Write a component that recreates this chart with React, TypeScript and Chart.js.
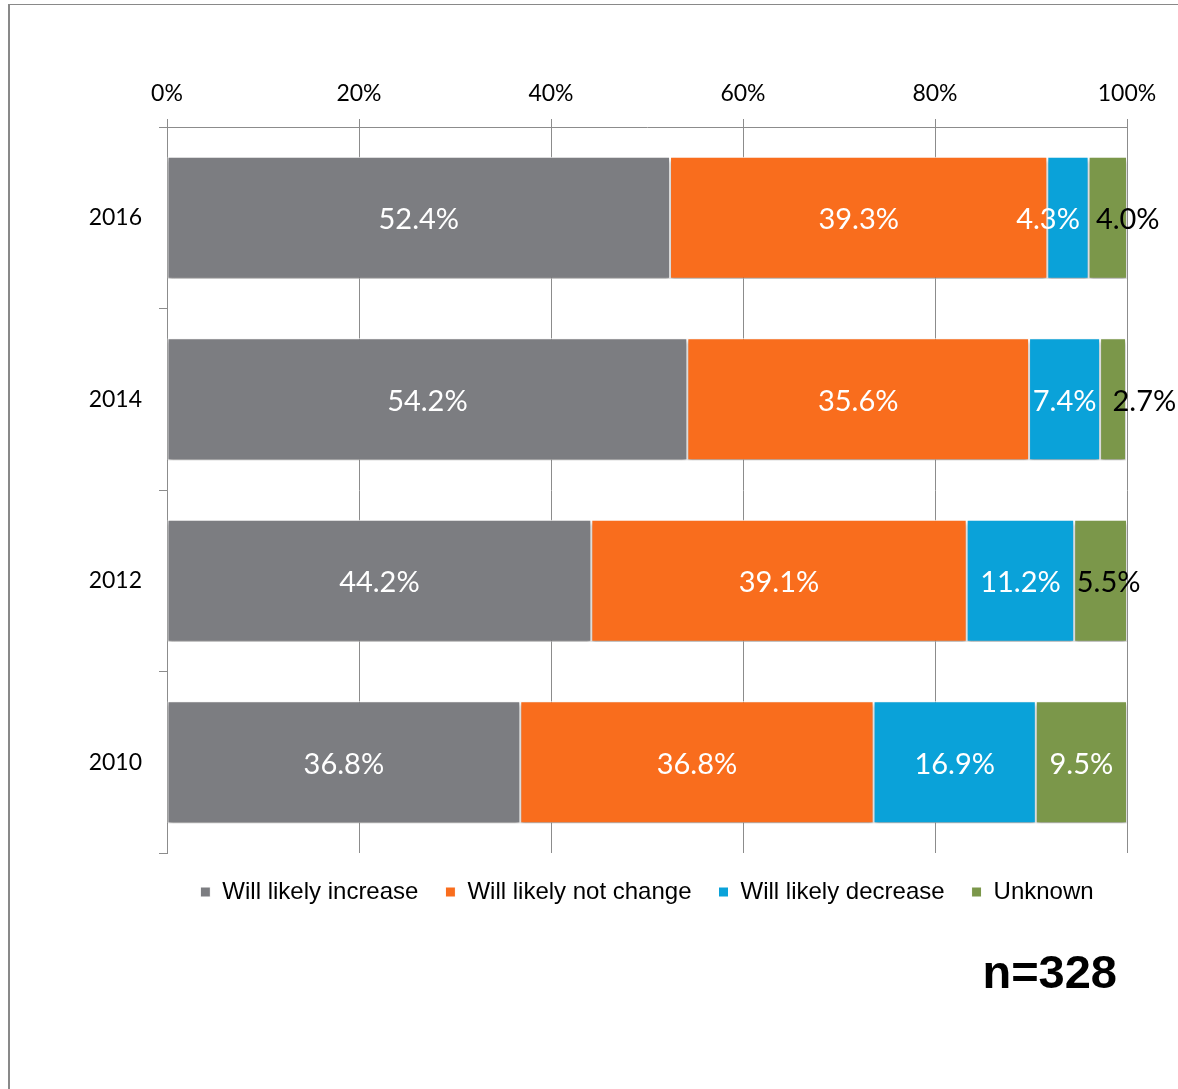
import React, { useEffect, useRef } from "react";
import { Chart, registerables } from "chart.js";
Chart.register(...registerables);

const categories = ["2016", "2014", "2012", "2010"];
const seriesNames = ["Will likely increase", "Will likely not change", "Will likely decrease", "Unknown"];
const increase = [52.4, 54.2, 44.2, 36.8];
const notChange = [39.3, 35.6, 39.1, 36.8];
const decrease = [4.3, 7.4, 11.2, 16.9];
const unknown = [4.0, 2.7, 5.5, 9.5];
const xTicks = [0, 20, 40, 60, 80, 100];
const sampleNote = "n=328";
const colors = ["#7c7d81", "#f96d1d", "#0aa2d9", "#7b974a"];

const LABEL_FONT = "29px Lato";
const NOTE_FONT = "bold 47px 'Liberation Sans', Arial, sans-serif";
const GRID = "#8c8c8c";

const segLabels = {
  id: "segLabels",
  beforeDatasetsDraw(chart: any) {
    const ctx = chart.ctx;
    ctx.save();
    ctx.shadowColor = "rgba(0,0,0,0.35)";
    ctx.shadowBlur = 4;
    ctx.shadowOffsetY = 3;
  },
  afterDatasetsDraw(chart: any) {
    const ctx = chart.ctx;
    ctx.restore();
    ctx.save();
    ctx.font = LABEL_FONT;
    ctx.textBaseline = "middle";
    ctx.textAlign = "left";
    const dsCount = chart.data.datasets.length;
    const n = chart.data.labels.length;
    for (let j = 0; j < n; j++) {
      const items: any[] = [];
      chart.data.datasets.forEach((ds: any, i: number) => {
        const el = chart.getDatasetMeta(i).data[j];
        const left = Math.min(el.x, el.base);
        const right = Math.max(el.x, el.base);
        const text = Number(ds.data[j]).toFixed(1) + "%";
        const w = ctx.measureText(text).width;
        const cx = (left + right) / 2;
        items.push({ text, w, x: cx - w / 2, y: el.y + 2, fits: w <= right - left - 4, last: i === dsCount - 1 });
      });
      const gap = 16;
      for (let k = 0; k < items.length - 1; k++) {
        const a = items[k];
        const b = items[k + 1];
        const o = a.x + a.w + gap - b.x;
        if (o > 0) {
          if (a.fits) b.x += o;
          else {
            a.x -= o / 2;
            b.x += o / 2;
          }
        }
      }
      items.forEach((it) => {
        ctx.fillStyle = it.last && !it.fits ? "#000" : "#fff";
        ctx.fillText(it.text, it.x, it.y);
      });
    }
    ctx.font = NOTE_FONT;
    ctx.fillStyle = "#000";
    ctx.textAlign = "right";
    ctx.textBaseline = "alphabetic";
    ctx.fillText(sampleNote, chart.chartArea.right - 10, chart.chartArea.bottom + 135);
    ctx.restore();
  },
};

export default function App() {
  const ref = useRef<HTMLCanvasElement>(null);
  useEffect(() => {
    let chart: Chart | null = null;
    let cancelled = false;
    const build = () => {
      if (cancelled || !ref.current) return;
      const seriesData = [increase, notChange, decrease, unknown];
      chart = new Chart(ref.current, {
        type: "bar",
        data: {
          labels: categories,
          datasets: seriesNames.map((name, i) => ({
            label: name,
            data: seriesData[i],
            backgroundColor: colors[i],
            borderColor: "#ffffff",
            borderWidth: 1,
            borderSkipped: false,
            categoryPercentage: 1,
            barPercentage: 0.672,
          })),
        },
        options: {
          responsive: false,
          animation: false,
          indexAxis: "y",
          layout: { padding: { left: 0, right: 51, top: 0, bottom: 175 } },
          scales: {
            x: {
              position: "top",
              stacked: true,
              min: 0,
              max: 100,
              afterFit: (s: any) => {
                s.height = 127;
              },
              afterBuildTicks: (s: any) => {
                s.ticks = xTicks.map((v) => ({ value: v }));
              },
              ticks: {
                callback: (v: any) => v + "%",
                color: "#000",
                font: { family: "Lato", size: 23 },
                padding: 12,
                maxRotation: 0,
              },
              grid: { color: GRID, lineWidth: 1, tickLength: 8, drawTicks: true },
              border: { display: true, color: GRID, width: 1 },
            },
            y: {
              stacked: true,
              afterFit: (s: any) => {
                s.width = 167;
              },
              ticks: { color: "#000", font: { family: "Lato", size: 23 }, padding: 17 },
              grid: { drawOnChartArea: false, drawTicks: true, tickLength: 8, color: GRID, offset: true },
              border: { display: true, color: GRID, width: 1 },
            },
          },
          plugins: {
            legend: {
              position: "bottom",
              fullSize: false,
              labels: {
                boxWidth: 10,
                boxHeight: 10,
                padding: 27,
                color: "#000",
                font: { family: "'Liberation Sans', Arial, sans-serif", size: 24 },
              },
            },
            tooltip: { enabled: false },
          },
        },
        plugins: [segLabels],
      } as any);
    };
    const fonts = (document as any).fonts;
    if (fonts && fonts.load) {
      Promise.all([
        fonts.load(LABEL_FONT),
        fonts.load("23px Lato"),
        fonts.load("24px 'Liberation Sans'"),
        fonts.load("bold 47px 'Liberation Sans'"),
      ])
        .catch(() => null)
        .then(build);
    } else build();
    return () => {
      cancelled = true;
      if (chart) chart.destroy();
    };
  }, []);
  return (
    <div style={{ position: "absolute", left: 0, top: 0, width: 1178, height: 1089, overflow: "hidden", background: "#fff" }}>
      <div
        style={{
          position: "absolute",
          left: 8,
          top: 4,
          width: 1300,
          height: 1300,
          borderLeft: "2px solid #898989",
          borderTop: "1px solid #898989",
          boxSizing: "border-box",
        }}
      />
      <canvas ref={ref} width={1178} height={1089} style={{ position: "absolute", left: 0, top: 0, width: 1178, height: 1089 }} />
    </div>
  );
}
